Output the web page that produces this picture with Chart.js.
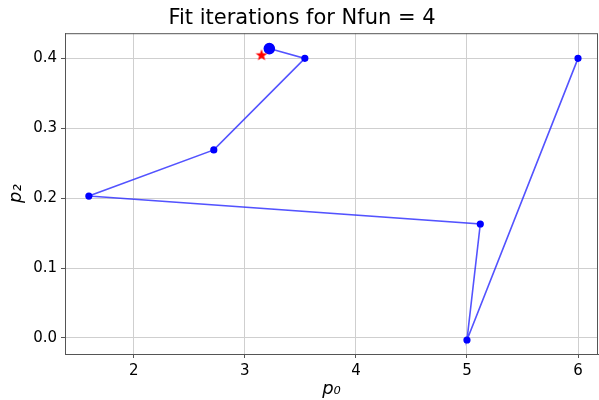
<!DOCTYPE html>
<html>
<head>
<meta charset="utf-8">
<script src="https://cdn.jsdelivr.net/npm/chart.js@4"></script>
<style>
html,body{margin:0;padding:0;background:#fff;}
#wrap{width:599px;height:400px;}
</style>
</head>
<body>
<div id="wrap"><canvas id="c"></canvas></div>
<script>
// iteration path (p0, p2)
var p0 = [6.0, 5.0, 5.12, 1.595, 2.72, 3.54, 3.22];
var p2 = [0.400, -0.003, 0.163, 0.203, 0.269, 0.400, 0.414];
// true minimum
var trueP0 = [3.15];
var trueP2 = [0.405];
var xTicks = [2, 3, 4, 5, 6];
var yTicks = [0.0, 0.1, 0.2, 0.3, 0.4];

var path = p0.map(function(v, i){ return {x: v, y: p2[i]}; });
var star = trueP0.map(function(v, i){ return {x: v, y: trueP2[i]}; });

// filled red star marker
var starImg = document.createElement('canvas');
starImg.width = 14; starImg.height = 14;
(function(){
  var g = starImg.getContext('2d');
  g.fillStyle = 'red';
  g.beginPath();
  for (var k = 0; k < 10; k++) {
    var r = k % 2 ? 2.6 : 6.2;
    var a = -Math.PI/2 + k*Math.PI/5;
    var px = 7 + r*Math.cos(a), py = 7.5 + r*Math.sin(a);
    if (k == 0) g.moveTo(px, py); else g.lineTo(px, py);
  }
  g.closePath();
  g.fill();
})();

const frame = {
  id: 'frame',
  afterDraw(chart){
    const {ctx, chartArea: a} = chart;
    ctx.save();
    ctx.strokeStyle = '#555';
    ctx.lineWidth = 1;
    ctx.strokeRect(a.left + 0.5, a.top + 0.5, a.right - a.left - 1, a.bottom - a.top);
    ctx.restore();
  }
};

new Chart('c', {
  type: 'scatter',
  data: {
    datasets: [{
      data: star,
      pointStyle: starImg,
      pointRadius: 7,
      showLine: false
    },{
      data: path,
      showLine: true,
      borderColor: 'rgba(40,40,255,0.8)',
      borderWidth: 1.6,
      backgroundColor: '#0000ff',
      pointBackgroundColor: '#0000ff',
      pointBorderColor: '#0000ff',
      pointRadius: p0.map(function(v, i){ return i == p0.length - 1 ? 5 : 2.8; }),
      tension: 0
    }]
  },
  options: {
    responsive: true,
    maintainAspectRatio: false,
    animation: false,
    layout: { autoPadding: false, padding: {top: 6, right: 1, left: 6, bottom: 0} },
    plugins: {
      legend: { display: false },
      tooltip: { enabled: false },
      title: {
        display: true,
        text: 'Fit iterations for Nfun = 4',
        color: '#000',
        font: { family: 'DejaVu Sans', size: 21, weight: 'normal' },
        padding: { top: 0, bottom: 2 }
      }
    },
    scales: {
      x: {
        min: 1.38, max: 6.18,
        afterBuildTicks(s){ s.ticks = xTicks.map(function(v){ return {value: v}; }); },
        afterFit(s){ s.height = 46; },
        ticks: {
          color: '#000',
          font: { family: 'DejaVu Sans', size: 15 },
          padding: 4,
          callback: function(v){ return v; }
        },
        grid: { color: '#cfcfcf', lineWidth: 1, tickLength: 4, tickColor: '#555' },
        border: { color: '#555' },
        title: {
          display: true, text: 'p₀', color: '#000',
          font: { family: 'DejaVu Sans', size: 18, style: 'italic' },
          padding: { top: 0, bottom: 0 }
        }
      },
      y: {
        min: -0.023, max: 0.436,
        afterBuildTicks(s){ s.ticks = yTicks.map(function(v){ return {value: v}; }); },
        afterFit(s){ s.width = 59; },
        ticks: {
          color: '#000',
          font: { family: 'DejaVu Sans', size: 15 },
          padding: 4,
          callback: function(v){ return v.toFixed(1); }
        },
        grid: { color: '#cfcfcf', lineWidth: 1, tickLength: 4, tickColor: '#555' },
        border: { color: '#555' },
        title: {
          display: true, text: 'p₂', color: '#000',
          font: { family: 'DejaVu Sans', size: 18, style: 'italic' },
          padding: { top: 0, bottom: 0 }
        }
      }
    }
  },
  plugins: [frame]
});
</script>
</body>
</html>
